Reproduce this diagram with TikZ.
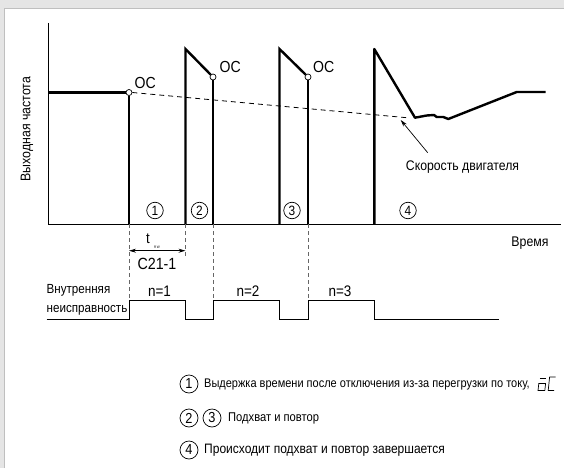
\documentclass[tikz,border=0pt]{standalone}
\usepackage{fontspec}
\setmainfont{Liberation Sans}[FakeStretch=0.88]
\usetikzlibrary{arrows.meta}
\newcommand{\fsz}[1]{\fontsize{#1}{#1}\selectfont}
\begin{document}
\begin{tikzpicture}[x=1pt,y=-1pt,
  thickln/.style={line width=2.4pt,line join=miter,line cap=butt},
  thinln/.style={line width=0.9pt},
  dashln/.style={line width=0.8pt,dash pattern=on 5pt off 4pt},
  guideln/.style={line width=0.8pt,gray!80!black,dash pattern=on 4pt off 3pt},
  circnum/.style={circle,draw,line width=0.7pt,minimum size=16.5pt,inner sep=0pt,font=\fsz{13.5}},
  legnum/.style={circle,draw,line width=0.7pt,minimum size=18pt,inner sep=0pt,font=\fsz{14.5}},
  lbl/.style={inner sep=0pt,font=\fsz{14}},
  leglbl/.style={inner sep=0pt,anchor=west,font=\fsz{12.5}},
  ocdot/.style={circle,draw,fill=white,line width=0.7pt,minimum size=6pt,inner sep=0pt}]
\useasboundingbox (0,0) rectangle (564,468);
% frame
\fill[black!10] (0,0) rectangle (564,468);
\fill[white] (4.5,8) rectangle (564,468);
\draw[black!25,line width=0.8pt] (4.5,468) -- (4.5,8) -- (564,8);
% axes
\coordinate (ytop) at (48,23);
\coordinate (orig) at (48,224);
\coordinate (xend) at (561,224);
\draw[thinln] (ytop) -- (orig) -- (xend);
\node[lbl,rotate=90,font=\fsz{14}] (ylab) at (27,129) {Выходная частота};
\node[lbl] (xlab) at (530,243) {Время};
% OC points
\node[ocdot] (oc1) at (129,92.5) {};
\node[ocdot] (oc2) at (213,77) {};
\node[ocdot] (oc3) at (308,77) {};
\coordinate (b1) at (129,224);
\coordinate (b2a) at (185.5,224);
\coordinate (b2b) at (213,224);
\coordinate (b3a) at (279.5,224);
\coordinate (b3b) at (308,224);
\coordinate (b4) at (374.3,224);
% output frequency
\draw[thickln] (48,92.5) -- (oc1.west);
\draw[thickln] (oc1.south) -- (b1);
\draw[thickln] (b2a) -- (185.5,49) -- (oc2.north west);
\draw[thickln] (oc2.south) -- (b2b);
\draw[thickln] (b3a) -- (279.5,49) -- (oc3.north west);
\draw[thickln] (oc3.south) -- (b3b);
\draw[thickln,line join=round] (b4) -- (374.3,49) -- (415,117.7) -- (426.7,115.5) -- (434,115) -- (436.7,117) -- (443.3,117) -- (448.3,119) -- (516.7,92) -- (545.7,92);
% motor speed
\coordinate (spd) at (410,118);
\draw[dashln] (oc1.east) -- (spd);
\coordinate (arrs) at (427.7,152.7);
\draw[line width=0.7pt,-{Stealth[length=7pt,width=4pt]}] (arrs) -- (400.7,120);
\node[lbl,font=\fsz{13.9}] (spdlab) at (462.5,167) {Скорость двигателя};
% OC labels
\node[lbl,anchor=west,font=\fsz{16}] (l1) at (134.5,83) {OC};
\node[lbl,anchor=west,font=\fsz{16}] (l2) at (219.5,67) {OC};
\node[lbl,anchor=west,font=\fsz{16}] (l3) at (313,67) {OC};
% circled numbers
\node[circnum] (c1) at (155,210.5) {1};
\node[circnum] (c2) at (199.5,210.5) {2};
\node[circnum] (c3) at (292,210.5) {3};
\node[circnum] (c4) at (408,210.5) {4};
% guides
\coordinate (g1) at (129,300);
\coordinate (g2) at (185.5,256);
\coordinate (g3) at (213,300);
\coordinate (g4) at (308,300);
\draw[guideln] (b1) -- (g1);
\draw[guideln] (b2a) -- (g2);
\draw[guideln] (b2b) -- (g3);
\draw[guideln] (b3b) -- (g4);
% time span
\coordinate (ta) at (129,250.7);
\coordinate (tb) at (185.5,250.7);
\draw[line width=0.8pt,{Stealth[length=7pt,width=4pt]}-{Stealth[length=7pt,width=4pt]}] (ta) -- (tb);
\node[lbl,font=\fsz{15}] (tlab) at (148,238.5) {t};
\node[inner sep=0pt,font=\fsz{3.5}] (tsub) at (157,247.2) {R\,W};
\node[lbl,font=\fsz{16.2}] (clab) at (157,263.5) {C21-1};
% internal fault
\node[lbl,anchor=west,font=\fsz{13.2}] (if1) at (46.5,290.5) {Внутренняя};
\node[lbl,anchor=west,font=\fsz{13.2}] (if2) at (46.5,310.5) {неисправность};
\draw[thinln] (46.7,319) -- (129,319) -- (g1) -- (185.5,300) -- (185.5,319) -- (213,319) -- (g3) -- (279.5,300) -- (279.5,319) -- (308,319) -- (g4) -- (374,300) -- (374,319) -- (499,319);
\node[lbl,font=\fsz{15.3}] (n1) at (159.5,291.5) {n=1};
\node[lbl,font=\fsz{15.3}] (n2) at (248,291.5) {n=2};
\node[lbl,font=\fsz{15.3}] (n3) at (340,291.5) {n=3};
% legend
\node[legnum] (k1) at (189,384) {1};
\node[leglbl] (t1) at (204,384) {Выдержка времени после отключения из-за перегрузки по току,};
\node[legnum] (k2) at (189,418) {2};
\node[legnum] (k3) at (212,418) {3};
\node[leglbl,font=\fsz{12.7}] (t2) at (228,418) {Подхват и повтор};
\node[legnum] (k4) at (189,450) {4};
\node[leglbl,font=\fsz{13.65}] (t3) at (204,450) {Происходит подхват и повтор завершается};
% seven-segment oC
\begin{scope}[line width=0.7pt]
\draw (538.8,383.5) -- (545.6,383.5) -- (544.8,390.5) -- (538,390.5) -- cycle;
\draw (539.8,378) -- (546.4,378);
\draw (555.5,377) -- (549.6,377) -- (548.2,390.5) -- (554,390.5);
\end{scope}
\end{tikzpicture}
\end{document}
